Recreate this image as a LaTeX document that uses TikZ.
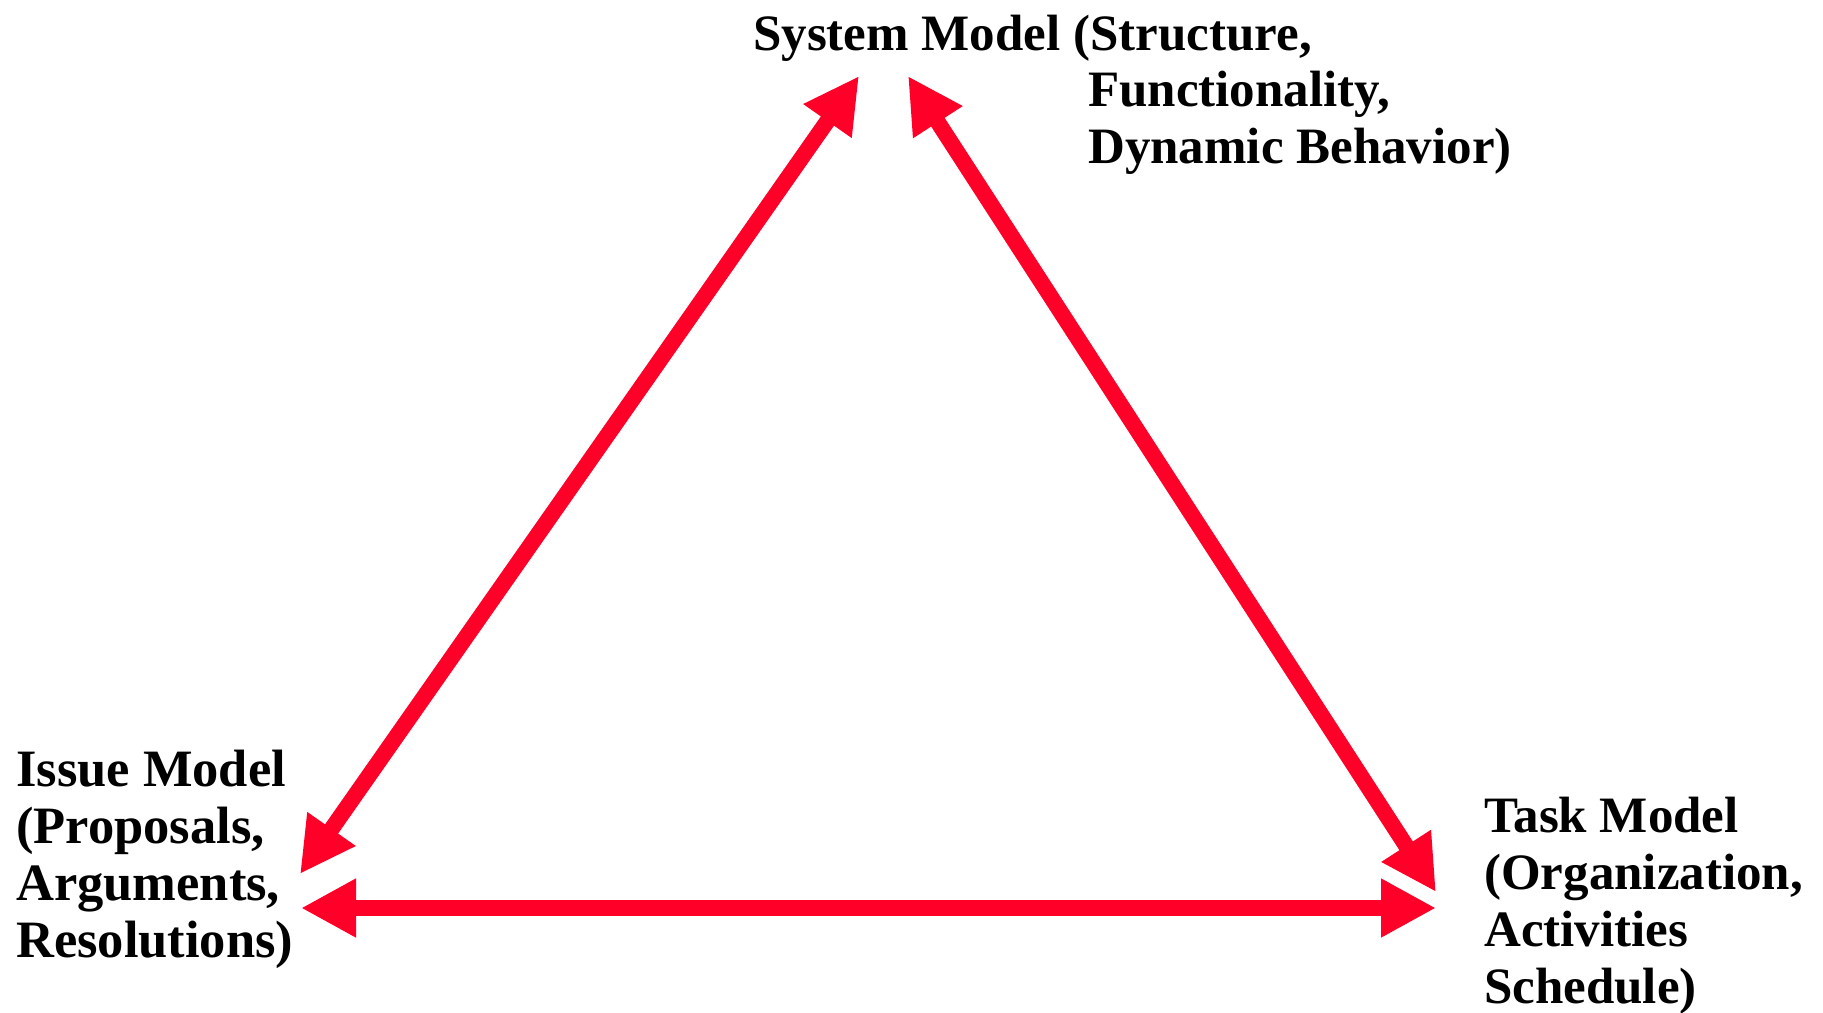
\documentclass[tikz,border=0pt]{standalone}
\usepackage{fontspec}
\setmainfont{Liberation Serif}
\usetikzlibrary{arrows.meta}
\definecolor{arrowred}{RGB}{255,0,41}
\begin{document}
\begin{tikzpicture}[x=1pt,y=-1pt,
  lbl/.style={anchor=base west,inner sep=0pt,font=\fontsize{51}{57}\selectfont\bfseries,align=left},
  lblbig/.style={lbl,font=\fontsize{52.5}{57}\selectfont\bfseries},
  link/.style={draw=arrowred,line width=16pt,{Triangle[length=55pt,width=55pt]}-{Triangle[length=55pt,width=55pt]}}]
\useasboundingbox (0,0) rectangle (1823,1012);
% labels (base anchor = baseline of the last line)
\node[lbl] (sys1) at (753,50) {System Model (Structure,};
\node[lbl] (sys2) at (1088,163) {Functionality,\\Dynamic Behavior)};
\node[lblbig] (issue) at (16,957) {Issue Model\\(Proposals,\\Arguments,\\Resolutions)};
\node[lbl] (task) at (1484,1003) {Task Model\\(Organization,\\Activities\\Schedule)};
% arrow ends
\coordinate (sysL) at (859,76);
\coordinate (sysR) at (908,76);
\coordinate (issueD) at (300,874);
\coordinate (issueH) at (301,908);
\coordinate (taskD) at (1436,892);
\coordinate (taskH) at (1436,908);
\draw[link] (issueD) -- (sysL);
\draw[link] (sysR) -- (taskD);
\draw[link] (issueH) -- (taskH);
\end{tikzpicture}
\end{document}
